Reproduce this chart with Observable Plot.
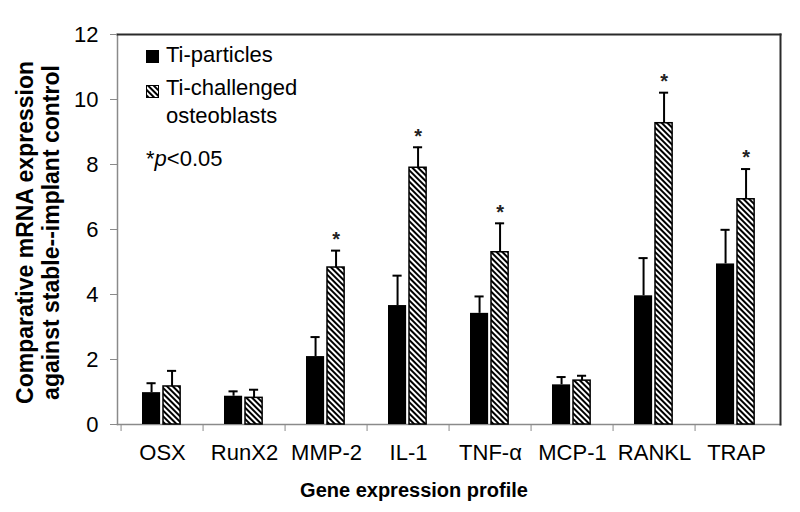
<!DOCTYPE html>
<html><head><meta charset="utf-8">
<script src="https://cdn.jsdelivr.net/npm/d3@7"></script>
<script src="https://cdn.jsdelivr.net/npm/@observablehq/plot@0.6"></script>
<style>
body{margin:0;background:#fff;font-family:"Liberation Sans",Arial,sans-serif}
#wrap{position:relative;width:800px;height:512px}
.leg{position:absolute;font-size:22px;line-height:22px;color:#000;white-space:nowrap}
</style></head>
<body><div id="wrap"></div>
<script>
const genes = ["OSX","RunX2","MMP-2","IL-1","TNF-α","MCP-1","RANKL","TRAP"];
const tiParticles    = [0.98, 0.87, 2.09, 3.66, 3.42, 1.22, 3.96, 4.94];
const tiParticlesErr = [0.29, 0.15, 0.60, 0.92, 0.52, 0.24, 1.16, 1.05];
const tiOsteo        = [1.17, 0.82, 4.83, 7.90, 5.30, 1.35, 9.27, 6.93];
const tiOsteoErr     = [0.48, 0.25, 0.52, 0.63, 0.89, 0.15, 0.94, 0.93];
const significant    = [false,false,true,true,true,false,true,true];
const yTicks = [0,2,4,6,8,10,12];
const seriesNames = ["Ti-particles","Ti-challenged\nosteoblasts"];
const yTitle = ["Comparative mRNA expression","against stable--implant control"];
const xTitle = "Gene expression profile";

const W=800,H=512,mL=117,mR=20,mT=34,mB=88;
const bw=(W-mL-mR)/genes.length;
const data = genes.map((g,i)=>({gene:g,p:tiParticles[i],pe:tiParticlesErr[i],o:tiOsteo[i],oe:tiOsteoErr[i],sig:significant[i]}));
const cA=30.5, cB=51; // bar centres within band
const font='"Liberation Sans",Arial,sans-serif';

const plot = Plot.plot({
  width:W,height:H,marginLeft:mL,marginRight:mR,marginTop:mT,marginBottom:mB,
  style:{fontFamily:font,background:"white"},
  x:{type:"band",domain:genes,padding:0,label:null},
  y:{domain:[0,12],label:null},
  marks:[
    Plot.frame({anchor:"left",stroke:"#8a8a8a",strokeWidth:1.5}),
    Plot.frame({anchor:"bottom",stroke:"#8a8a8a",strokeWidth:1.5}),
    Plot.frame({anchor:"top",stroke:"#2a2a2a",strokeWidth:2}),
    Plot.frame({anchor:"right",stroke:"#2a2a2a",strokeWidth:2}),
    Plot.axisY({ticks:yTicks,tickSize:7,tickPadding:12,fontSize:22,stroke:"#8a8a8a",label:null}),
    Plot.axisX({tickSize:7,tickFormat:()=>"",dx:-bw/2,stroke:"#8a8a8a",label:null}),
    Plot.axisX({tickSize:0,tickPadding:20,fontSize:22,label:null}),
    Plot.barY(data,{x:"gene",y:"p",fill:"black",insetLeft:21,insetRight:bw-40}),
    Plot.barY(data,{x:"gene",y:"o",fill:"url(#hatch)",stroke:"black",strokeWidth:1.5,insetLeft:42,insetRight:bw-60}),
    Plot.ruleX(data,{x:"gene",y1:"p",y2:d=>d.p+d.pe,dx:cA-bw/2,strokeWidth:2}),
    Plot.ruleX(data,{x:"gene",y1:"o",y2:d=>d.o+d.oe,dx:cB-bw/2,strokeWidth:2}),
    Plot.tickY(data,{x:"gene",y:d=>d.p+d.pe,insetLeft:cA-5,insetRight:bw-cA-5,strokeWidth:2}),
    Plot.tickY(data,{x:"gene",y:d=>d.o+d.oe,insetLeft:cB-5,insetRight:bw-cB-5,strokeWidth:2}),
    Plot.text(data.filter(d=>d.sig),{x:"gene",y:d=>d.o+d.oe,text:()=>"*",dx:cB-bw/2,dy:-11,fontSize:20,fontWeight:"bold",fill:"#222"}),
    Plot.text([yTitle[0]],{frameAnchor:"left",textAnchor:"middle",lineAnchor:"middle",dx:-92,dy:3,rotate:-90,fontSize:23,fontWeight:"bold"}),
    Plot.text([yTitle[1]],{frameAnchor:"left",textAnchor:"middle",lineAnchor:"middle",dx:-66,dy:3,rotate:-90,fontSize:23,fontWeight:"bold"}),
    Plot.text([xTitle],{frameAnchor:"bottom",textAnchor:"middle",lineAnchor:"middle",dy:66,dx:-35,fontSize:20,fontWeight:"bold"})
  ]
});
d3.select(plot).insert("defs",":first-child").html(
 '<pattern id="hatch" patternUnits="userSpaceOnUse" width="4" height="4" patternTransform="rotate(-45)"><rect width="4" height="4" fill="white"/><rect width="2" height="4" fill="black"/></pattern>');
const wrap=document.getElementById("wrap");
wrap.appendChild(plot);

// legend overlay
const lines=seriesNames[1].split("\n");
wrap.insertAdjacentHTML("beforeend",`
<svg style="position:absolute;left:146px;top:50px" width="13" height="13"><rect width="13" height="13" fill="black"/></svg>
<div class="leg" style="left:166px;top:44px">${seriesNames[0]}</div>
<svg style="position:absolute;left:146px;top:85px" width="13" height="13"><defs><pattern id="hatch2" patternUnits="userSpaceOnUse" width="4" height="4" patternTransform="rotate(-45)"><rect width="4" height="4" fill="white"/><rect width="2" height="4" fill="black"/></pattern></defs><rect x="0.5" y="0.5" width="12" height="12" fill="url(#hatch2)" stroke="black"/></svg>
<div class="leg" style="left:166px;top:77px">${lines[0]}</div>
<div class="leg" style="left:166px;top:105px">${lines[1]}</div>
<div class="leg" style="left:146px;top:148px">*<i>p</i>&lt;0.05</div>`);
</script></body></html>
